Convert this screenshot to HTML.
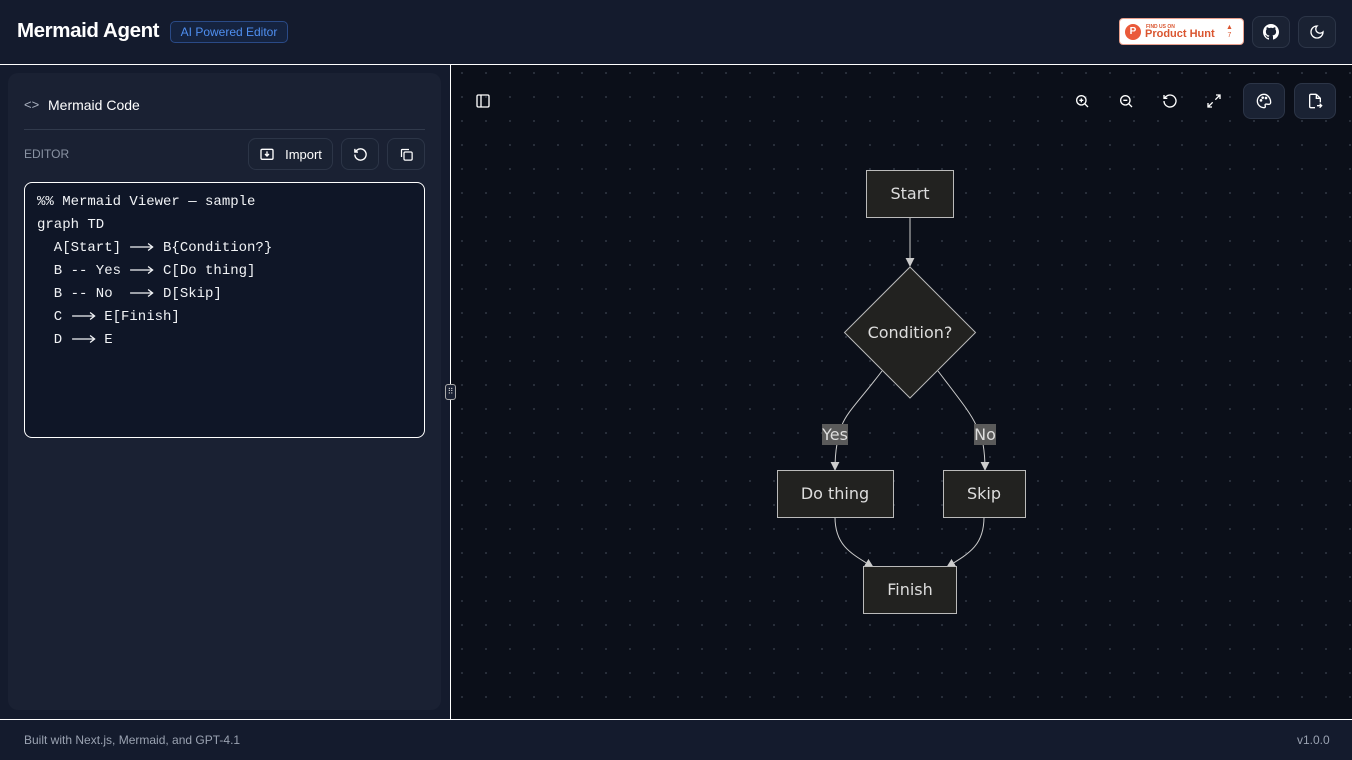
<!DOCTYPE html>
<html><head><style>
*{box-sizing:border-box;margin:0;padding:0}
body{width:1352px;height:760px;background:#141b2d;font-family:"Liberation Sans",sans-serif;position:relative;overflow:hidden;color:#e5e7eb}
.abs{position:absolute}
.btn{position:absolute;border:1px solid #2c3547;border-radius:8px;background:#1a2233;display:flex;align-items:center;justify-content:center}
.mono{font-family:"Liberation Mono",monospace;font-size:14px;color:#f1f3f6;white-space:pre;line-height:23px}
.ar{display:inline-block;width:25.2px;height:10px;vertical-align:middle}
</style></head><body>
<div class="abs" style="left:0;top:0;width:1352px;height:64px;background:#141b2d"></div>
<div class="abs" style="left:17px;top:19px;font-size:20.5px;font-weight:bold;color:#fff;letter-spacing:-0.4px">Mermaid Agent</div>
<div class="abs" style="left:170px;top:21px;width:118px;height:22px;border:1px solid #2a4a86;border-radius:5px;background:#15233f;color:#4f8ff0;font-size:12px;text-align:center;line-height:20px">AI Powered Editor</div>
<div class="abs" style="left:1119px;top:18px;width:125px;height:27px;background:#fff;border:1px solid #e9a08d;border-radius:4px"></div>
<div class="abs" style="left:1125px;top:24px;width:16px;height:16px;border-radius:50%;background:#ea5a3a;color:#fff;font-size:10px;font-weight:bold;text-align:center;line-height:16px">P</div>
<div class="abs" style="left:1146px;top:24px;font-size:5px;font-weight:bold;color:#da552f">FIND US ON</div>
<div class="abs" style="left:1145px;top:28px;font-size:11px;font-weight:bold;color:#da552f">Product Hunt</div>
<div class="abs" style="left:1226px;top:24px;font-size:7px;color:#da552f;line-height:8px;text-align:center">▲<br>7</div>
<div class="btn" style="left:1252px;top:16px;width:38px;height:32px"><svg width="16" height="16" viewBox="0 0 16 16"><path fill="#fff" d="M8 0C3.6 0 0 3.6 0 8c0 3.5 2.3 6.5 5.5 7.6.4.1.5-.2.5-.4v-1.4c-2.2.5-2.7-1-2.7-1-.4-.9-.9-1.2-.9-1.2-.7-.5.1-.5.1-.5.8.1 1.2.8 1.2.8.7 1.2 1.9.9 2.3.7.1-.5.3-.9.5-1.1-1.8-.2-3.6-.9-3.6-4 0-.9.3-1.600.8-2.1-.1-.2-.4-1 .1-2.1 0 0 .7-.2 2.2.8.6-.2 1.3-.3 2-.3s1.4.1 2 .3c1.5-1 2.2-.8 2.2-.8.4 1.1.2 1.9.1 2.1.5.6.8 1.3.8 2.1 0 3.1-1.9 3.7-3.6 3.900.3.3.5.8.5 1.5v2.2c0 .2.1.5.6.4C13.7 14.5 16 11.5 16 8c0-4.4-3.6-8-8-8z"/></svg></div>
<div class="btn" style="left:1298px;top:16px;width:38px;height:32px"><svg width="16" height="16" viewBox="0 0 24 24" fill="none" stroke="#fff" stroke-width="2"><path d="M12 3a6 6 0 0 0 9 9 9 9 0 1 1-9-9z"/></svg></div>
<div class="abs" style="left:0;top:64px;width:1352px;height:1px;background:#fff"></div>

<!-- left panel -->
<div class="abs" style="left:8px;top:73px;width:433px;height:637px;background:#1a2133;border-radius:10px"></div>
<div class="abs" style="left:24px;top:97px;font-size:13px;color:#aab2c0">&lt;&gt;</div>
<div class="abs" style="left:48px;top:97px;font-size:14px;color:#fff">Mermaid Code</div>
<div class="abs" style="left:24px;top:129px;width:401px;height:1px;background:#313a4c"></div>
<div class="abs" style="left:24px;top:147px;font-size:12px;color:#8a93a3">EDITOR</div>
<div class="btn" style="left:248px;top:138px;width:85px;height:32px;gap:10px;font-size:13px;color:#fff"><svg width="16" height="16" viewBox="0 0 24 24" fill="none" stroke="#fff" stroke-width="2"><rect x="3" y="5" width="18" height="15" rx="2"/><path d="M12 8v7M9 12l3 3 3-3"/></svg>Import</div>
<div class="btn" style="left:341px;top:138px;width:38px;height:32px"><svg width="15" height="15" viewBox="0 0 24 24" fill="none" stroke="#fff" stroke-width="2.2"><path d="M3 12a9 9 0 1 0 3-6.7L3 8M3 3v5h5"/></svg></div>
<div class="btn" style="left:387px;top:138px;width:38px;height:32px"><svg width="15" height="15" viewBox="0 0 24 24" fill="none" stroke="#fff" stroke-width="2"><rect x="8" y="8" width="13" height="13" rx="2"/><path d="M4 16V5a1 1 0 0 1 1-1h11"/></svg></div>
<div class="abs" style="left:24px;top:182px;width:401px;height:256px;border:1px solid #fff;border-radius:8px;background:#0f1627"></div>
<div class="abs mono" style="left:37px;top:191px">%% Mermaid Viewer — sample
graph TD
  A[Start] <svg class="ar" viewBox="0 0 25 10"><path d="M1 5H23M19 1.5L23.5 5L19 8.5" fill="none" stroke="#f1f3f6" stroke-width="1.3"/><title>⟶</title></svg> B{Condition?}
  B -- Yes <svg class="ar" viewBox="0 0 25 10"><path d="M1 5H23M19 1.5L23.5 5L19 8.5" fill="none" stroke="#f1f3f6" stroke-width="1.3"/></svg> C[Do thing]
  B -- No  <svg class="ar" viewBox="0 0 25 10"><path d="M1 5H23M19 1.5L23.5 5L19 8.5" fill="none" stroke="#f1f3f6" stroke-width="1.3"/></svg> D[Skip]
  C <svg class="ar" viewBox="0 0 25 10"><path d="M1 5H23M19 1.5L23.5 5L19 8.5" fill="none" stroke="#f1f3f6" stroke-width="1.3"/></svg> E[Finish]
  D <svg class="ar" viewBox="0 0 25 10"><path d="M1 5H23M19 1.5L23.5 5L19 8.5" fill="none" stroke="#f1f3f6" stroke-width="1.3"/></svg> E</div>

<!-- canvas -->
<div class="abs" style="left:451px;top:65px;width:901px;height:654px;background-color:#0b0f19;background-image:radial-gradient(circle,#2a303c 1px,transparent 1.2px);background-size:24px 24px;background-position:-1px -4px"></div>
<div class="abs" style="left:450px;top:65px;width:1px;height:655px;background:#fff"></div>
<div class="abs" style="left:445px;top:384px;width:11px;height:16px;border:1px solid #aaa;border-radius:3px;background:#1a2133;font-size:8px;color:#ccc;text-align:center;line-height:14px">⠿</div>
<svg class="abs" style="left:475px;top:93px" width="16" height="16" viewBox="0 0 24 24" fill="none" stroke="#fff" stroke-width="2"><rect x="3" y="3" width="18" height="18" rx="2"/><path d="M9 3v18"/></svg>
<svg class="abs" style="left:1074px;top:93px" width="16" height="16" viewBox="0 0 24 24" fill="none" stroke="#fff" stroke-width="2"><circle cx="11" cy="11" r="7"/><path d="M21 21l-5-5M11 8v6M8 11h6"/></svg>
<svg class="abs" style="left:1118px;top:93px" width="16" height="16" viewBox="0 0 24 24" fill="none" stroke="#fff" stroke-width="2"><circle cx="11" cy="11" r="7"/><path d="M21 21l-5-5M8 11h6"/></svg>
<svg class="abs" style="left:1162px;top:93px" width="16" height="16" viewBox="0 0 24 24" fill="none" stroke="#fff" stroke-width="2"><path d="M3 12a9 9 0 1 0 3-6.7L3 8M3 3v5h5"/></svg>
<svg class="abs" style="left:1206px;top:93px" width="16" height="16" viewBox="0 0 24 24" fill="none" stroke="#fff" stroke-width="2"><path d="M15 3h6v6M21 3l-7 7M9 21H3v-6M3 21l7-7"/></svg>
<div class="btn" style="left:1243px;top:83px;width:42px;height:36px"><svg width="16" height="16" viewBox="0 0 24 24" fill="none" stroke="#fff" stroke-width="2"><path d="M12 2a10 10 0 0 0 0 20c1.5 0 2-1 2-2 0-1.5-1-2 0-3s3 0 5 0a3 3 0 0 0 3-3c0-6-4.5-12-10-12z"/><circle cx="7.5" cy="11" r="1"/><circle cx="10" cy="7" r="1"/><circle cx="15" cy="7.5" r="1"/></svg></div>
<div class="btn" style="left:1294px;top:83px;width:42px;height:36px"><svg width="16" height="16" viewBox="0 0 24 24" fill="none" stroke="#fff" stroke-width="2"><path d="M14 2H6a2 2 0 0 0-2 2v16a2 2 0 0 0 2 2h6M14 2v6h6M14 2l6 6v6M15 19h7M19 16l3 3-3 3"/></svg></div>

<svg class="abs" style="left:0;top:0" width="1352" height="760" font-family="DejaVu Sans,sans-serif">
<defs><marker id="a" viewBox="0 0 10 10" refX="9" refY="5" markerWidth="9" markerHeight="9" markerUnits="userSpaceOnUse" orient="auto"><path d="M0 0L10 5L0 10z" fill="#ccc"/></marker></defs>
<g fill="none" stroke="#ccc" stroke-width="1">
<path d="M910 217V266" marker-end="url(#a)"/>
<path d="M882 371C860 400 847 412 842 425M837 444C835 455 835 462 835 470" marker-end="url(#a)"/>
<path d="M938 371C960 400 970 412 976 425M983 444C985 455 985 462 985 470" marker-end="url(#a)"/>
<path d="M835 517C835 545 850 553 873 567" marker-end="url(#a)"/>
<path d="M984 517C984 545 970 553 947 567" marker-end="url(#a)"/>
</g>
<g fill="#222220" stroke="#bbb" stroke-width="1">
<rect x="866.5" y="170.5" width="87" height="47"/>
<path d="M910 267L975.5 332.5L910 398L844.5 332.5Z"/>
<rect x="777.5" y="470.5" width="116" height="47"/>
<rect x="943.5" y="470.5" width="82" height="47"/>
<rect x="863.5" y="566.5" width="93" height="47"/>
</g>
<rect x="822" y="424" width="26" height="21" fill="#5a5a5a"/>
<rect x="974" y="424" width="22" height="21" fill="#5a5a5a"/>
<g fill="#ddd" font-size="16" text-anchor="middle">
<text x="910" y="199">Start</text>
<text x="910" y="338">Condition?</text>
<text x="835" y="499">Do thing</text>
<text x="984" y="499">Skip</text>
<text x="910" y="595">Finish</text>
<text x="835" y="440">Yes</text>
<text x="985" y="440">No</text>
</g>
</svg>

<!-- footer -->
<div class="abs" style="left:0;top:719px;width:1352px;height:1px;background:#fff"></div>
<div class="abs" style="left:24px;top:733px;font-size:12px;color:#9aa2b1">Built with Next.js, Mermaid, and GPT-4.1</div>
<div class="abs" style="left:1297px;top:733px;font-size:12px;color:#9aa2b1">v1.0.0</div>
</body></html>
